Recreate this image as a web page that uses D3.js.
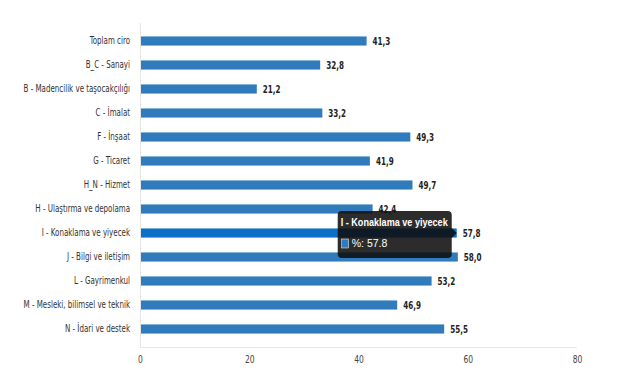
<!DOCTYPE html>
<html><head><meta charset="utf-8">
<script src="https://cdn.jsdelivr.net/npm/d3@7"></script>
<style>
body{margin:0;background:#fff;}
svg{display:block;}
.cond{font-family:'DejaVu Sans Condensed','DejaVu Sans',sans-serif;font-stretch:condensed;}
</style></head>
<body>
<svg id="c" width="629" height="376"></svg>
<script>
const categories = ["Toplam ciro","B_C - Sanayi","B - Madencilik ve taşocakçılığı","C - İmalat","F - İnşaat","G - Ticaret","H_N - Hizmet","H - Ulaştırma ve depolama","I - Konaklama ve yiyecek","J - Bilgi ve iletişim","L - Gayrimenkul","M - Mesleki, bilimsel ve teknik","N - İdari ve destek"];
const values = [41.3,32.8,21.2,33.2,49.3,41.9,49.7,42.4,57.8,58.0,53.2,46.9,55.5];
const xTicks = [0,20,40,60,80];
const highlighted = "I - Konaklama ve yiyecek";
const seriesName = "%";

const svg = d3.select("#c");
const m = {left:140, right:52, top:29, bottom:35};
const W = 629, H = 376;
const x = d3.scaleLinear().domain([0,80]).range([m.left, W-m.right]);
const y = d3.scaleBand().domain(categories).range([m.top, H-m.bottom]).paddingInner(0.62).paddingOuter(0.31);

// axis lines
svg.append("line").attr("x1",x(0)+0.5).attr("x2",x(0)+0.5).attr("y1",m.top-6).attr("y2",H-m.bottom+6).attr("stroke","#e6e6e6");
svg.append("line").attr("x1",x(0)).attr("x2",x(80)).attr("y1",H-m.bottom+6.5).attr("y2",H-m.bottom+6.5).attr("stroke","#e6e6e6");

// x axis labels
const xa = svg.append("g").attr("transform",`translate(0,${H-m.bottom+6})`)
  .call(d3.axisBottom(x).tickValues(xTicks).tickSize(0).tickPadding(9));
xa.select(".domain").remove();
xa.selectAll("text").attr("class","cond").attr("font-size",10.5).attr("fill","#444")
  .each(function(){ const w=this.getComputedTextLength(); d3.select(this).attr("textLength",w*0.8).attr("lengthAdjust","spacingAndGlyphs"); });

// y axis labels
const ya = svg.append("g").attr("transform",`translate(${m.left},0)`)
  .call(d3.axisLeft(y).tickSize(0).tickPadding(10));
ya.select(".domain").remove();
ya.selectAll("text").attr("class","cond").attr("font-size",10.5).attr("fill","#333");
ya.selectAll("text").each(function(){
  const w = this.getComputedTextLength();
  d3.select(this).attr("textLength", w*0.75).attr("lengthAdjust","spacingAndGlyphs");
});

// bars
svg.append("g").selectAll("rect").data(categories).join("rect")
  .attr("x",x(0)+1).attr("y",d=>y(d)).attr("height",y.bandwidth())
  .attr("width",(d,i)=>x(values[i])-x(0))
  .attr("fill",d=>d===highlighted?"#0b6fc6":"#2f7bbd");

// value labels
svg.append("g").selectAll("text").data(categories).join("text")
  .attr("x",(d,i)=>x(values[i])+7).attr("y",d=>y(d)+y.bandwidth()/2)
  .attr("dy","0.35em").attr("class","cond").attr("font-weight","bold")
  .attr("font-size",10).attr("fill","#222")
  .text((d,i)=>values[i].toFixed(1).replace(".",","))
  .each(function(){ const w=this.getComputedTextLength(); d3.select(this).attr("textLength",w*0.8).attr("lengthAdjust","spacingAndGlyphs"); });

// tooltip
const hi = categories.indexOf(highlighted);
const ax = x(values[hi])+1, ay = y(highlighted)+y.bandwidth()/2;
const bw = 114, bh = 47;
const bx = ax - 5 - bw, by = ay - 22;
const tt = svg.append("g");
tt.append("path")
  .attr("d",`M${bx+4},${by} H${bx+bw-4} Q${bx+bw},${by} ${bx+bw},${by+4} V${ay-5} L${ax},${ay} L${bx+bw},${ay+5} V${by+bh-4} Q${bx+bw},${by+bh} ${bx+bw-4},${by+bh} H${bx+4} Q${bx},${by+bh} ${bx},${by+bh-4} V${by+4} Q${bx},${by} ${bx+4},${by} Z`)
  .attr("fill","rgba(15,15,15,0.88)");
tt.append("text").attr("x",bx+3).attr("y",by+15).attr("fill","#fff")
  .attr("font-family","'Liberation Sans','Arial',sans-serif").attr("font-weight","bold").attr("font-size",10.5)
  .text(highlighted)
  .each(function(){ d3.select(this).attr("textLength",107).attr("lengthAdjust","spacingAndGlyphs"); });
tt.append("rect").attr("x",bx+4).attr("y",by+28).attr("width",7).attr("height",9).attr("fill","#2f7bbd").attr("stroke","#fff").attr("stroke-width",0.5);
tt.append("text").attr("x",bx+14).attr("y",by+36).attr("fill","#fff")
  .attr("font-family","'Liberation Sans','Arial',sans-serif").attr("font-size",10.5)
  .text(seriesName+": "+values[hi]);
</script>
</body></html>
